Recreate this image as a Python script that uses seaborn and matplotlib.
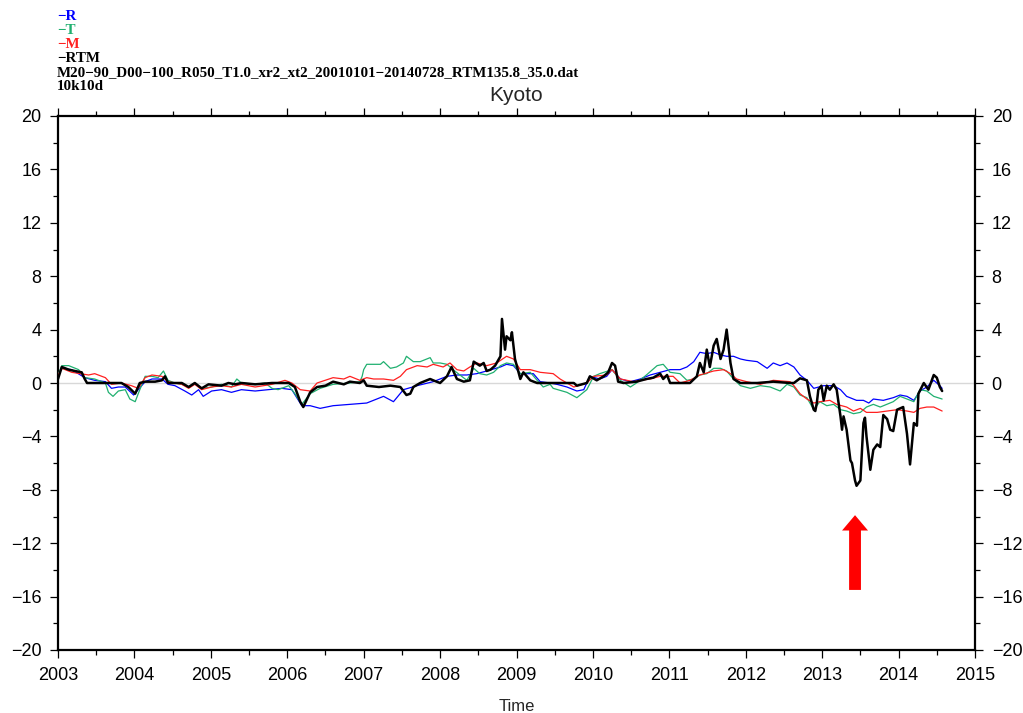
import numpy as np
import pandas as pd
import matplotlib
matplotlib.use("Agg")
import matplotlib.pyplot as plt
import seaborn as sns
from matplotlib.ticker import MultipleLocator

# ---------------- data (decimal year, value) ----------------
t_R = [2003.00, 2003.05, 2003.18, 2003.35, 2003.48, 2003.62, 2003.70, 2003.79, 2003.88, 2003.99,
       2004.05, 2004.14, 2004.23, 2004.36, 2004.44, 2004.53, 2004.66, 2004.75, 2004.84, 2004.90,
       2005.01, 2005.14, 2005.27, 2005.40, 2005.58, 2005.75, 2005.93, 2006.06, 2006.19, 2006.30,
       2006.43, 2006.60, 2006.82, 2007.04, 2007.26, 2007.39, 2007.52, 2007.70, 2007.91, 2008.09,
       2008.22, 2008.35, 2008.48, 2008.61, 2008.79, 2008.87, 2008.96, 2009.05, 2009.22, 2009.31,
       2009.44, 2009.53, 2009.66, 2009.79, 2009.88, 2009.96, 2010.09, 2010.18, 2010.25, 2010.36,
       2010.49, 2010.62, 2010.75, 2010.88, 2011.01, 2011.14, 2011.23, 2011.32, 2011.40, 2011.49,
       2011.58, 2011.67, 2011.75, 2011.84, 2011.93, 2012.01, 2012.15, 2012.28, 2012.36, 2012.45,
       2012.54, 2012.63, 2012.71, 2012.80, 2012.89, 2013.02, 2013.15, 2013.24, 2013.32, 2013.45,
       2013.54, 2013.61, 2013.67, 2013.80, 2013.93, 2014.02, 2014.11, 2014.20, 2014.28, 2014.37,
       2014.46, 2014.54, 2014.57]
R = [0.6, 1.1, 1.0, 0.4, 0.2, 0.1, -0.4, -0.3, -0.3, -0.9,
     -0.5, 0.1, 0.3, 0.3, -0.1, -0.2, -0.6, -0.9, -0.5, -1.0,
     -0.6, -0.5, -0.7, -0.5, -0.6, -0.5, -0.4, -0.5, -1.7, -1.7,
     -1.9, -1.7, -1.6, -1.5, -1.0, -1.4, -0.5, -0.2, 0.1, 0.5,
     0.6, 0.6, 0.7, 0.9, 1.2, 1.4, 1.3, 0.7, 0.7, 0.1,
     0.0, -0.1, -0.3, -0.6, -0.5, 0.5, 0.3, 0.5, 1.0, 0.3,
     0.1, 0.3, 0.6, 0.8, 1.0, 1.0, 1.2, 1.6, 2.3, 2.2,
     2.3, 2.1, 2.0, 2.0, 1.8, 1.7, 1.6, 1.1, 1.5, 1.3,
     1.5, 1.2, 0.6, 0.2, -0.4, -0.2, -0.2, -0.5, -1.0, -1.3,
     -1.3, -1.5, -1.2, -1.3, -1.1, -0.9, -1.0, -1.3, -0.6, -0.3,
     0.2, -0.2, -0.4]

t_T = [2003.00, 2003.05, 2003.14, 2003.27, 2003.35, 2003.48, 2003.62, 2003.66, 2003.72, 2003.79,
       2003.88, 2003.94, 2004.01, 2004.05, 2004.14, 2004.23, 2004.31, 2004.38, 2004.44, 2004.53,
       2004.62, 2004.71, 2004.79, 2004.88, 2005.01, 2005.14, 2005.27, 2005.34, 2005.40, 2005.58,
       2005.71, 2005.80, 2005.88, 2006.02, 2006.10, 2006.19, 2006.30, 2006.43, 2006.60, 2006.82,
       2006.95, 2006.98, 2007.00, 2007.04, 2007.22, 2007.26, 2007.35, 2007.43, 2007.52, 2007.56,
       2007.65, 2007.74, 2007.87, 2007.91, 2008.00, 2008.09, 2008.17, 2008.26, 2008.35, 2008.44,
       2008.52, 2008.61, 2008.70, 2008.79, 2008.87, 2008.96, 2009.05, 2009.18, 2009.27, 2009.35,
       2009.44, 2009.48, 2009.66, 2009.79, 2009.92, 2010.01, 2010.09, 2010.25, 2010.36, 2010.49,
       2010.57, 2010.70, 2010.84, 2010.92, 2011.01, 2011.14, 2011.23, 2011.32, 2011.40, 2011.49,
       2011.58, 2011.67, 2011.75, 2011.84, 2011.93, 2012.06, 2012.19, 2012.32, 2012.45, 2012.54,
       2012.63, 2012.71, 2012.80, 2012.89, 2012.97, 2013.06, 2013.15, 2013.24, 2013.32, 2013.41,
       2013.50, 2013.58, 2013.67, 2013.76, 2013.93, 2014.02, 2014.11, 2014.20, 2014.28, 2014.37,
       2014.46, 2014.57]
T = [0.6, 1.3, 1.3, 1.0, 0.4, 0.3, 0.0, -0.7, -1.0, -0.6,
     -0.5, -1.2, -1.4, -0.8, 0.5, 0.5, 0.4, 0.9, 0.2, 0.0,
     -0.1, -0.3, 0.0, -0.4, -0.3, -0.1, -0.3, 0.3, 0.0, -0.1,
     0.0, -0.4, -0.5, -0.2, -0.8, -1.6, -0.8, -0.4, -0.1, 0.0,
     0.1, 0.5, 1.0, 1.4, 1.4, 1.6, 1.1, 1.2, 1.5, 2.0,
     1.6, 1.6, 1.9, 1.5, 1.5, 1.4, 1.0, 0.6, 0.2, 1.1,
     0.7, 0.6, 0.8, 1.3, 1.5, 1.4, 0.7, 0.8, 0.2, -0.3,
     -0.1, -0.4, -0.7, -1.1, -0.5, 0.5, 0.7, 1.0, 0.2, -0.3,
     0.0, 0.6, 1.3, 1.4, 0.8, 0.7, 0.2, 0.3, 0.6, 0.7,
     1.1, 1.1, 0.9, 0.3, -0.2, -0.4, -0.2, -0.3, -0.6, -0.1,
     -0.3, -0.9, -1.1, -2.0, -1.4, -1.7, -1.6, -2.0, -2.1, -2.3,
     -2.2, -1.8, -1.6, -1.8, -1.4, -1.0, -1.2, -1.4, -0.5, -0.6,
     -1.0, -1.2]

t_M = [2003.00, 2003.05, 2003.18, 2003.40, 2003.48, 2003.62, 2003.70, 2003.83, 2003.96, 2004.05,
       2004.14, 2004.23, 2004.36, 2004.44, 2004.62, 2004.71, 2004.79, 2004.88, 2005.01, 2005.14,
       2005.27, 2005.40, 2005.58, 2005.80, 2005.97, 2006.06, 2006.17, 2006.30, 2006.39, 2006.60,
       2006.74, 2006.82, 2006.95, 2007.04, 2007.13, 2007.26, 2007.39, 2007.48, 2007.56, 2007.70,
       2007.83, 2007.91, 2008.04, 2008.13, 2008.22, 2008.31, 2008.39, 2008.48, 2008.61, 2008.74,
       2008.87, 2008.96, 2009.05, 2009.18, 2009.31, 2009.48, 2009.57, 2009.75, 2009.92, 2010.01,
       2010.18, 2010.25, 2010.36, 2010.53, 2010.62, 2010.75, 2010.88, 2011.05, 2011.14, 2011.27,
       2011.40, 2011.58, 2011.71, 2011.80, 2011.88, 2012.01, 2012.19, 2012.36, 2012.58, 2012.63,
       2012.71, 2012.80, 2012.89, 2012.97, 2013.10, 2013.19, 2013.32, 2013.41, 2013.50, 2013.58,
       2013.72, 2013.85, 2013.98, 2014.11, 2014.20, 2014.28, 2014.37, 2014.46, 2014.57]
M = [0.6, 1.1, 0.8, 0.6, 0.7, 0.4, -0.1, 0.0, -0.2, -0.4,
     0.4, 0.6, 0.5, 0.1, -0.1, -0.4, -0.1, -0.5, -0.3, -0.2,
     -0.3, -0.1, -0.3, -0.1, 0.2, 0.0, -0.5, -0.6, 0.0, 0.4,
     0.3, 0.5, 0.2, 0.4, 0.3, 0.3, 0.2, 0.5, 1.0, 1.3,
     1.2, 1.4, 1.2, 1.5, 1.0, 0.9, 1.2, 1.5, 1.3, 1.5,
     2.0, 1.8, 1.0, 1.0, 0.8, 0.7, 0.3, -0.3, 0.0, 0.5,
     0.6, 1.0, 0.3, 0.1, 0.2, 0.3, 0.5, 0.5, 0.0, 0.2,
     0.6, 0.9, 1.0, 0.7, 0.3, 0.1, -0.1, 0.2, 0.1, -0.2,
     -0.8, -1.2, -1.5, -1.4, -1.3, -1.6, -1.8, -2.1, -1.9, -2.2,
     -2.2, -2.1, -2.0, -2.1, -2.2, -1.9, -1.8, -1.8, -2.1]

t_RTM = [2003.00, 2003.05, 2003.14, 2003.22, 2003.31, 2003.35, 2003.38, 2003.62, 2003.83, 2003.92,
         2004.01, 2004.07, 2004.14, 2004.27, 2004.36, 2004.40, 2004.44, 2004.62, 2004.71, 2004.79,
         2004.88, 2004.97, 2005.14, 2005.23, 2005.32, 2005.40, 2005.58, 2005.80, 2006.02, 2006.10,
         2006.17, 2006.21, 2006.30, 2006.39, 2006.50, 2006.60, 2006.74, 2006.82, 2006.95, 2007.00,
         2007.04, 2007.20, 2007.35, 2007.48, 2007.56, 2007.61, 2007.65, 2007.74, 2007.87, 2007.91,
         2008.00, 2008.09, 2008.15, 2008.22, 2008.31, 2008.39, 2008.44, 2008.52, 2008.57, 2008.61,
         2008.66, 2008.72, 2008.79, 2008.81, 2008.85, 2008.87, 2008.92, 2008.94, 2008.98, 2009.05,
         2009.09, 2009.18, 2009.27, 2009.75, 2009.79, 2009.92, 2009.96, 2010.05, 2010.14, 2010.20,
         2010.25, 2010.29, 2010.33, 2010.40, 2010.57, 2010.70, 2010.79, 2010.88, 2010.92, 2010.97,
         2011.01, 2011.27, 2011.36, 2011.40, 2011.45, 2011.49, 2011.53, 2011.58, 2011.62, 2011.67,
         2011.71, 2011.75, 2011.80, 2011.84, 2011.93, 2012.15, 2012.36, 2012.58, 2012.63, 2012.71,
         2012.80, 2012.84, 2012.89, 2012.91, 2012.93, 2012.95, 2012.99, 2013.02, 2013.06, 2013.10,
         2013.15, 2013.19, 2013.24, 2013.26, 2013.28, 2013.32, 2013.37, 2013.39, 2013.43, 2013.45,
         2013.50, 2013.54, 2013.56, 2013.58, 2013.63, 2013.67, 2013.72, 2013.76, 2013.80, 2013.85,
         2013.89, 2013.93, 2013.98, 2014.06, 2014.11, 2014.15, 2014.20, 2014.24, 2014.26, 2014.33,
         2014.39, 2014.46, 2014.50, 2014.54, 2014.57]
RTM = [0.3, 1.2, 1.0, 0.9, 0.8, 0.3, 0.0, 0.0, 0.0, -0.3,
       -0.8, 0.0, 0.1, 0.1, 0.2, 0.5, 0.0, 0.0, -0.3, 0.0,
       -0.4, -0.1, -0.2, 0.0, -0.1, 0.0, -0.1, 0.0, 0.0, -0.3,
       -1.4, -1.8, -0.7, -0.3, -0.2, 0.1, -0.1, 0.1, 0.0, 0.2,
       -0.2, -0.3, -0.2, -0.3, -0.9, -0.8, -0.3, 0.0, 0.3, 0.2,
       0.0, 0.5, 1.2, 0.3, 0.1, 0.2, 1.6, 1.3, 1.5, 0.9,
       1.0, 1.3, 2.0, 4.8, 2.5, 3.5, 3.2, 3.8, 1.8, 0.3,
       0.8, 0.2, 0.0, 0.0, -0.2, 0.0, 0.5, 0.2, 0.5, 0.8,
       1.5, 1.3, 0.1, 0.0, 0.1, 0.3, 0.4, 0.7, 0.3, 0.6,
       0.0, 0.0, 0.5, 1.5, 0.8, 2.5, 1.2, 2.8, 3.3, 1.8,
       2.5, 4.0, 1.5, 0.3, 0.0, 0.0, 0.1, 0.0, 0.0, 0.35,
       0.2, -1.0, -2.0, -2.1, -1.5, -0.5, -0.2, -1.3, -0.2, -0.5,
       -0.1, -0.5, -2.5, -3.5, -2.5, -3.5, -5.8, -6.0, -7.3, -7.7,
       -7.3, -3.0, -2.6, -4.0, -6.5, -5.0, -4.6, -4.8, -2.4, -2.7,
       -3.5, -3.6, -2.0, -1.8, -3.8, -6.1, -3.0, -3.2, -0.8, 0.0,
       -0.5, 0.6, 0.4, -0.3, -0.6]

arrow_x = 2013.43
arrow_y0, arrow_y1 = -15.5, -9.9

header_lines = ["\u2212R", "\u2212T", "\u2212M", "\u2212RTM",
                "M20\u221290_D00\u2212100_R050_T1.0_xr2_xt2_20010101\u221220140728_RTM135.8_35.0.dat",
                "10k10d"]

C_R, C_T, C_M, C_RTM = "#0000ff", "#20b070", "#ff2020", "#000000"
header_colors = [C_R, C_T, C_M, C_RTM, "black", "black"]

# ---------------- figure ----------------
sns.set_theme(style="ticks")
plt.rcParams["font.family"] = ["Liberation Sans", "DejaVu Sans"]

W, H = 1023, 713
fig = plt.figure(figsize=(W / 100, H / 100), dpi=100)
ax = fig.add_axes([58 / W, 1 - 650 / H, (975 - 58) / W, (650 - 116) / H])

ax.axhline(0, color="#d8d8d8", lw=1.0, zorder=1)

for tt, vv, c, lw in [(t_R, R, C_R, 0.9), (t_T, T, C_T, 0.9), (t_M, M, C_M, 0.9), (t_RTM, RTM, C_RTM, 1.8)]:
    df = pd.DataFrame({"t": tt, "v": vv})
    sns.lineplot(data=df, x="t", y="v", ax=ax, color=c, lw=lw, estimator=None, sort=False, zorder=3)

ax.arrow(arrow_x, arrow_y0, 0, arrow_y1 - arrow_y0, width=0.155, head_width=0.34,
         head_length=1.15, length_includes_head=True, color="red", lw=0, zorder=4)

ax.set_xlim(2003, 2015)
ax.set_ylim(-20, 20)
ax.xaxis.set_major_locator(MultipleLocator(1))
ax.xaxis.set_minor_locator(MultipleLocator(0.5))
ax.yaxis.set_major_locator(MultipleLocator(4))
ax.yaxis.set_minor_locator(MultipleLocator(2))
ax.xaxis.set_major_formatter(matplotlib.ticker.FuncFormatter(lambda v, p: f"{int(round(v))}"))
ax.set_xlabel("")
ax.set_ylabel("")

ax.tick_params(which="both", direction="out", top=True, right=True, labelright=True,
               labeltop=False, width=0.9, color="black")
ax.tick_params(which="major", length=6, labelsize=13, pad=6, labelcolor="black")
ax.tick_params(which="minor", length=3.5)
for s in ax.spines.values():
    s.set_visible(True)
    s.set_linewidth(1.6)
    s.set_color("black")

# header text
y_pos = [20.5, 34.5, 48.5, 62.5, 76.5, 90.5]
for txt, col, yp in zip(header_lines, header_colors, y_pos):
    fig.text(57 / W, 1 - yp / H, txt, color=col, fontsize=10.8, fontweight="bold",
             family=["Liberation Serif", "DejaVu Serif"], ha="left", va="baseline")

fig.text(516.5 / W, 1 - 101 / H, "Kyoto", fontsize=15, ha="center", va="baseline")
fig.text(516.5 / W, 1 - 711 / H, "Time", fontsize=12, ha="center", va="baseline")

fig.savefig("out.png", dpi=100)
